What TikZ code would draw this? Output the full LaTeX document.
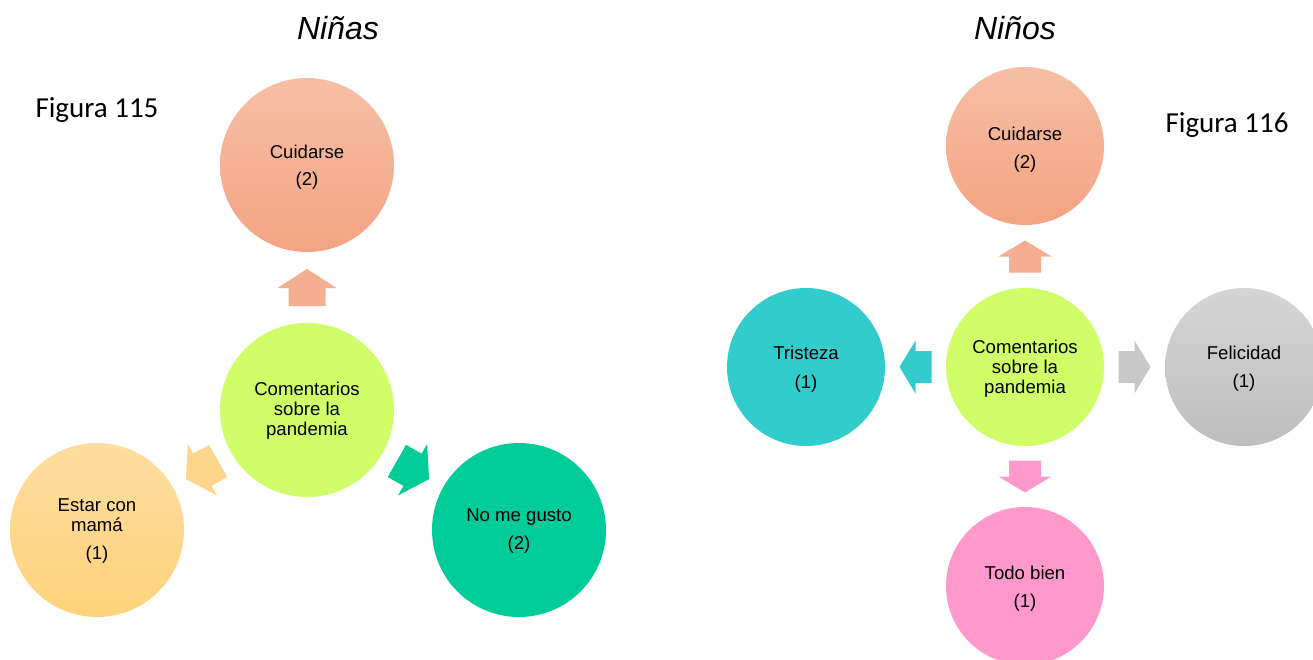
\documentclass[tikz,border=0pt]{standalone}
\usepackage{fontspec}
\setmainfont{Liberation Sans}
\newfontfamily\calib{Carlito}
\usetikzlibrary{calc}
\definecolor{salmonT}{HTML}{F6BFA5}
\definecolor{salmonB}{HTML}{F4A383}
\definecolor{salmonA}{HTML}{F5AE91}
\definecolor{lime}{HTML}{CFFE69}
\definecolor{sandT}{HTML}{FEDDA0}
\definecolor{sandB}{HTML}{FFD27B}
\definecolor{sandA}{HTML}{FED68B}
\definecolor{jade}{HTML}{00CC99}
\definecolor{teal2}{HTML}{33CCCC}
\definecolor{greyT}{HTML}{D5D5D5}
\definecolor{greyB}{HTML}{BEBEBE}
\definecolor{greyA}{HTML}{C8C8C8}
\definecolor{pink2}{HTML}{FF99CC}
\tikzset{
  bubble/.style={circle, draw=none, inner sep=0pt},
  bigb/.style={bubble, minimum size=174pt},
  smallb/.style={bubble, minimum size=158pt},
  btext/.style={inner sep=0pt, align=center, font=\fontsize{18.6}{20}\selectfont, text=black},
  title/.style={font=\fontsize{32}{36}\selectfont\itshape},
  figlabel/.style={font=\calib\fontsize{29}{32}\selectfont},
  bigarrow/.pic={\fill (18.5pt,0pt) -- (-0.5pt,29.5pt) -- (-0.5pt,18.5pt) -- (-18.5pt,18.5pt)
      -- (-18.5pt,-18.5pt) -- (-0.5pt,-18.5pt) -- (-0.5pt,-29.5pt) -- cycle;},
  smallarrow/.pic={\fill (16pt,0pt) -- (0pt,26.5pt) -- (0pt,16pt) -- (-16pt,16pt)
      -- (-16pt,-16pt) -- (0pt,-16pt) -- (0pt,-26.5pt) -- cycle;}
}
\begin{document}
\begin{tikzpicture}[x=1pt,y=-1pt]
\useasboundingbox[fill=white] (0,0) rectangle (1313,660);
% titles
\node[title] (tl) at (338,28) {Niñas};
\node[title] (tr) at (1015,28) {Niños};
\node[figlabel] (f1) at (97,110) {Figura 115};
\node[figlabel] (f2) at (1227,125) {Figura 116};
% left diagram
\node[bigb, top color=salmonT, bottom color=salmonB] (lc) at (307,165) {};
\node[bigb, fill=lime] (lm) at (307,410) {};
\node[bigb, top color=sandT, bottom color=sandB] (le) at (97,530) {};
\node[bigb, fill=jade] (ln) at (519,530) {};
\node[btext] (lct) at ($(lc)+(0,2.5)$) {Cuidarse\\[7pt](2)};
\node[btext] (lmt) at ($(lm)+(0,1)$) {Comentarios\\sobre la\\pandemia};
\node[btext] (let) at ($(le)+(0,1.5)$) {Estar con\\mamá\\[8pt](1)};
\node[btext] (lnt) at ($(ln)+(0,1.5)$) {No me gusto\\[8pt](2)};
\pic[salmonA, rotate=90] at ($(lm)!0.5!(lc)$) {bigarrow};
\pic[sandA, rotate=209.7] at ($(lm)!0.5!(le)$) {bigarrow};
\pic[jade, rotate=-29.5] at ($(lm)!0.5!(ln)$) {bigarrow};
% right diagram
\node[smallb, top color=salmonT, bottom color=salmonB] (rc) at (1025,146) {};
\node[smallb, fill=lime] (rm) at (1025,367) {};
\node[smallb, fill=teal2] (rt) at (806,367) {};
\node[smallb, top color=greyT, bottom color=greyB] (rf) at (1244,367) {};
\node[smallb, fill=pink2] (rb) at (1025,586) {};
\node[btext] (rct) at ($(rc)+(0,3.5)$) {Cuidarse\\[8pt](2)};
\node[btext] (rmt) at ($(rm)+(0,2)$) {Comentarios\\sobre la\\pandemia};
\node[btext] (rtt) at ($(rt)+(0,2)$) {Tristeza\\[9pt](1)};
\node[btext] (rft) at ($(rf)+(0,2)$) {Felicidad\\[8pt](1)};
\node[btext] (rbt) at ($(rb)+(0,2.5)$) {Todo bien\\[8pt](1)};
\pic[salmonA, rotate=90] at ($(rm)!0.5!(rc)$) {smallarrow};
\pic[teal2, rotate=180] at ($(rm)!0.5!(rt)$) {smallarrow};
\pic[greyA, rotate=0] at ($(rm)!0.5!(rf)$) {smallarrow};
\pic[pink2, rotate=-90] at ($(rm)!0.5!(rb)$) {smallarrow};
\end{tikzpicture}
\end{document}
